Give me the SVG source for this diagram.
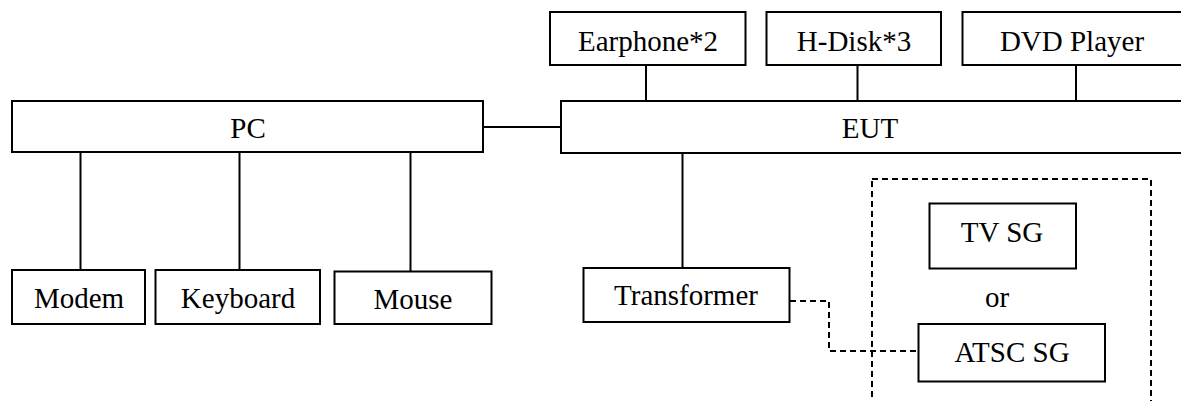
<svg xmlns="http://www.w3.org/2000/svg" width="1181" height="401" viewBox="0 0 1181 401">
<style>
.box{fill:#fff;stroke:#000;stroke-width:2}
.ln{stroke:#000;stroke-width:2;fill:none}
.dash{stroke:#000;stroke-width:2;fill:none;stroke-dasharray:6 4}
text{font-family:"Liberation Serif","Times New Roman",serif;font-size:29px;fill:#000;text-anchor:middle}
</style>
<rect width="1181" height="401" fill="#fff"/>
<g id="connectors">
<line class="ln" x1="483" y1="127" x2="561" y2="127"/>
<line class="ln" x1="80.5" y1="152" x2="80.5" y2="270"/>
<line class="ln" x1="239.5" y1="152" x2="239.5" y2="270"/>
<line class="ln" x1="410.5" y1="152" x2="410.5" y2="272"/>
<line class="ln" x1="646" y1="65" x2="646" y2="101"/>
<line class="ln" x1="857.5" y1="65" x2="857.5" y2="101"/>
<line class="ln" x1="1076" y1="65" x2="1076" y2="101"/>
<line class="ln" x1="682.5" y1="153" x2="682.5" y2="268"/>
<polyline class="dash" points="790,301 829,301 829,351 918,351"/>
</g>
<rect id="sg-group" class="dash" x="872" y="179" width="279" height="230"/>
<g id="pc"><rect class="box" x="12" y="101" width="471" height="51"/><text x="248" y="138">PC</text></g>
<g id="eut"><rect class="box" x="561" y="101" width="625" height="52"/><text x="870" y="138">EUT</text></g>
<g id="earphone"><rect class="box" x="550" y="12" width="195.5" height="53"/><text x="648" y="51">Earphone*2</text></g>
<g id="hdisk"><rect class="box" x="766.5" y="12" width="174.5" height="53"/><text x="854" y="51">H-Disk*3</text></g>
<g id="dvd"><rect class="box" x="962.5" y="12" width="224" height="53"/><text x="1072" y="51">DVD Player</text></g>
<g id="modem"><rect class="box" x="12" y="270" width="133" height="54"/><text x="79" y="308">Modem</text></g>
<g id="keyboard"><rect class="box" x="155.5" y="270" width="164.5" height="54"/><text x="238" y="308">Keyboard</text></g>
<g id="mouse"><rect class="box" x="334.5" y="271.5" width="157" height="52.5"/><text x="413" y="309">Mouse</text></g>
<g id="transformer"><rect class="box" x="583.5" y="268" width="206" height="54"/><text x="686" y="305">Transformer</text></g>
<g id="tvsg"><rect class="box" x="929.5" y="203.5" width="146.5" height="65"/><text x="1002" y="242">TV SG</text></g>
<text x="997" y="307">or</text>
<g id="atscsg"><rect class="box" x="918.5" y="324" width="186.5" height="57.5"/><text x="1012" y="362">ATSC SG</text></g>
</svg>
